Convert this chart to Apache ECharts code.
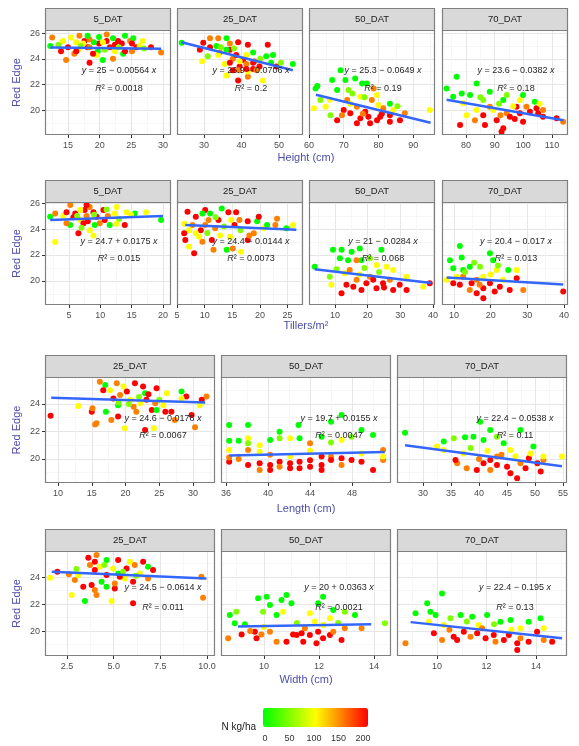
<!DOCTYPE html>
<html><head><meta charset="utf-8">
<script src="https://cdn.jsdelivr.net/npm/echarts@6/dist/echarts.min.js"></script>
<style>html,body{margin:0;padding:0;background:#fff}#c{width:579px;height:746px}</style>
</head><body><div id="c"></div><script>
// ---------------- DATA (x, Red Edge, N kg/ha) ----------------
const facets4 = ['5_DAT','25_DAT','50_DAT','70_DAT'];
const facets3 = ['25_DAT','50_DAT','70_DAT'];
const xTitles = ['Height (cm)','Tillers/m\u00b2','Length (cm)','Width (cm)'];
const yTitle = 'Red Edge';
const legendTitle = 'N kg/ha';
const nTicks = [0,50,100,150,200];
const yTicksTop = [20,22,24,26];
const yTicksBottom = [20,22,24];
const heightTicks = [[15,20,25,30],[30,40,50],[60,70,80,90],[80,90,100,110]];
const tillerTicks = [[5,10,15,20],[5,10,15,20,25],[10,20,30,40],[10,20,30,40]];
const lengthTicks = [[10,15,20,25,30],[36,40,44,48],[30,35,40,45,50,55]];
const widthTicks = [[2.5,5,7.5,10],[10,12,14],[10,12,14]];

const height5 = [[12.5,25.66,150],[12.2,25.0,0],[13.9,24.6,200],[14.7,23.9,150],[15.5,25.66,100],[16.8,25.8,150],[17.6,25.4,200],[18.4,23.7,200],[19.9,25.7,0],[21.1,25.9,150],[19.9,25.2,200],[19.7,24.6,0],[18.1,24.9,200],[19.5,24.3,100],[20.5,23.9,0],[21.6,24.9,200],[22.9,25.4,200],[22.1,24.0,150],[24.0,25.8,0],[23.5,25.2,200],[23.7,24.4,0],[24.8,25.4,150],[25.8,24.9,200],[26.3,25.0,100],[28.1,24.9,200],[29.7,24.5,150],[16.6,24.7,100],[16.0,24.4,150],[15.0,24.9,200],[14.2,25.4,100],[19.1,25.3,0],[17.4,25.2,100],[18.95,24.4,200],[22.4,24.6,100],[21.1,25.4,200],[25.1,24.6,150],[25.3,25.6,0],[26.8,25.4,100],[24.0,24.6,200],[18.4,25.5,150],[20.5,25.3,100],[22.1,25.6,0],[22.4,25.1,200],[18.4,24.9,150],[16.3,25.3,100],[16.3,24.6,200],[18.1,25.8,0],[25.1,25.2,200],[20.8,24.7,50],[23.0,24.9,50],[17.0,25.0,50],[27.0,24.8,50],[13.5,25.1,50]];
const height25 = [[24.05,25.26,0],[29.8,25.26,200],[31.6,25.6,150],[33.8,25.6,150],[36.0,25.6,0],[39.1,25.3,200],[28.9,24.7,200],[29.5,23.8,100],[31.6,24.9,200],[33.3,25.0,0],[34.2,24.5,150],[33.8,24.3,100],[36.9,24.7,200],[37.7,24.0,150],[39.5,23.4,200],[40.4,23.9,200],[41.3,24.3,100],[41.7,25.1,200],[43.1,24.5,0],[43.5,23.8,150],[43.1,23.2,200],[44.8,23.4,200],[46.6,24.2,0],[47.0,25.1,200],[48.4,24.3,0],[49.3,23.4,200],[45.7,22.3,100],[41.7,22.6,150],[39.1,22.3,200],[36.0,22.7,100],[37.7,23.1,200],[39.3,23.1,150],[41.7,23.0,100],[53.7,23.6,0],[35.5,23.6,100],[38.6,24.3,200],[36.9,25.2,150],[36.0,24.7,0],[43.1,23.7,200],[41.3,23.6,150],[39.5,23.8,100],[41.3,23.2,200],[44.0,23.1,150],[47.9,23.7,0],[36.9,23.7,200],[34.5,24.9,50],[38.0,24.8,50],[45.0,24.0,50],[31.0,24.2,50],[50.5,23.7,50]];
const height50 = [[62.4,21.87,0],[66.7,22.34,0],[69.1,23.1,0],[70.5,22.34,0],[73.3,22.47,0],[76.7,22.08,0],[83.3,20.5,0],[68.1,21.56,0],[71.4,21.56,50],[61.4,20.13,100],[64.8,20.26,100],[94.8,20.0,100],[66.2,19.6,50],[71.0,20.78,150],[74.8,21.04,100],[79.6,21.17,100],[78.6,21.69,150],[68.1,19.2,200],[71.9,19.74,200],[74.8,19.35,200],[77.6,18.96,200],[80.5,19.48,200],[83.3,19.09,200],[76.2,19.87,200],[73.8,20.26,150],[70.0,20.0,200],[86.2,19.2,200],[87.6,19.74,150],[84.3,20.0,100],[81.4,20.13,150],[79.6,19.2,200],[73.8,18.96,200],[61.9,21.69,0],[63.3,20.78,50],[78.1,20.78,150],[77.1,19.48,200],[71.9,20.5,100],[83.3,19.6,200],[75.3,22.08,0],[72.5,21.3,50],[76.0,21.0,50],[80.0,20.4,100],[66.0,20.8,100],[85.5,20.3,50],[75.5,19.7,150],[81.0,19.7,200],[69.5,19.6,150]];
const height70 = [[73.2,21.69,0],[76.7,22.6,0],[83.7,22.08,0],[75.5,21.04,0],[81.4,21.17,0],[88.3,21.43,0],[93.0,20.78,0],[104.0,20.65,0],[94.2,21.17,50],[79.0,20.52,100],[83.7,20.0,100],[98.8,20.78,100],[88.3,20.26,150],[94.2,19.74,150],[77.9,18.83,200],[86.6,18.83,200],[90.7,19.2,200],[93.0,18.57,200],[95.3,19.48,200],[98.8,19.74,200],[102.3,19.87,200],[105.2,19.74,200],[111.6,19.35,200],[113.9,19.09,150],[106.9,20.0,150],[99.9,19.09,200],[80.2,19.6,100],[83.1,19.2,150],[86.0,19.6,200],[89.5,20.0,100],[97.6,20.26,200],[101.1,20.26,150],[86.0,20.78,50],[104.6,20.13,200],[105.7,20.5,100],[99.9,21.17,0],[92.4,18.3,200],[106.9,19.48,200],[78.5,21.3,0],[85.0,21.0,50],[91.5,20.5,50],[96.5,20.3,100],[92.0,19.6,150],[97.0,19.3,200]];

const tillers5 = [[5.2,25.85,150],[6.0,25.2,200],[7.5,25.46,200],[8.3,25.7,150],[6.8,24.7,100],[7.3,24.44,200],[5.2,24.3,0],[6.5,23.67,200],[8.3,23.9,100],[9.4,24.95,200],[10.5,25.46,200],[9.9,24.44,150],[11.5,24.3,0],[10.7,24.7,200],[12.3,25.2,100],[14.2,25.3,100],[15.5,25.2,0],[17.3,25.3,100],[13.9,24.3,200],[12.6,24.4,100],[19.7,24.7,0],[2.8,23.0,100],[2.8,25.2,150],[2.0,24.95,0],[4.1,25.0,100],[4.6,25.3,200],[8.9,23.5,100],[7.8,25.0,150],[5.7,24.9,200],[12.6,25.7,100],[11.2,25.0,150],[7.8,25.85,200],[6.8,25.46,100],[9.1,24.3,0],[4.6,24.44,150],[8.9,25.3,200],[14.9,25.1,100],[6.3,25.0,50],[9.0,25.1,50],[11.0,25.5,50],[13.0,24.8,50],[8.0,24.6,200],[7.0,24.1,50]];
const tillers25 = [[6.9,25.33,200],[6.5,23.15,200],[8.4,24.95,200],[7.8,24.3,150],[7.2,23.9,100],[8.1,22.13,200],[7.2,22.64,100],[9.6,23.02,150],[9.0,23.4,100],[10.1,25.46,200],[10.7,24.7,150],[11.0,25.2,0],[11.3,23.15,200],[12.5,24.7,200],[13.1,25.58,0],[11.9,24.05,150],[12.8,23.5,100],[11.6,22.4,150],[14.6,23.4,100],[14.0,22.4,0],[15.1,22.5,150],[16.6,22.25,100],[14.3,25.3,200],[15.7,25.3,200],[14.8,24.7,100],[15.4,24.3,200],[16.3,24.7,150],[17.8,24.6,200],[19.5,24.6,0],[19.8,24.95,200],[18.9,23.67,150],[20.7,24.05,100],[17.8,23.15,200],[18.1,23.5,150],[21.3,24.3,0],[23.1,24.8,150],[22.8,24.3,150],[24.8,24.05,0],[26.0,24.3,100],[9.3,23.9,200],[10.1,24.3,150],[6.3,24.4,100],[6.3,23.67,200],[8.4,23.67,100],[9.6,25.2,0],[12.0,24.9,50],[13.5,24.2,50],[16.5,23.9,50],[10.5,23.7,50]];
const tillers50 = [[3.8,21.1,0],[9.4,22.4,0],[11.5,21.75,0],[15.1,22.25,0],[17.6,22.5,0],[18.1,21.6,0],[24.2,22.4,0],[14.0,21.6,0],[20.7,21.75,50],[22.7,21.23,100],[31.9,20.33,100],[8.9,19.7,100],[27.8,20.85,100],[16.6,21.6,150],[12.0,19.05,200],[15.6,19.56,200],[19.6,19.82,200],[22.7,19.44,200],[24.7,19.82,200],[27.8,19.3,200],[31.9,19.3,200],[20.7,20.33,150],[16.6,20.1,150],[18.1,19.3,200],[26.8,20.1,150],[29.8,19.7,200],[37.0,19.56,100],[39.0,19.82,200],[8.4,20.33,50],[13.0,20.6,100],[13.5,19.7,200],[21.7,20.1,200],[14.5,20.85,150],[12.0,22.4,0],[25.8,21.1,100],[19.0,21.0,50],[23.5,20.7,50],[17.5,20.5,100],[25.0,19.5,200],[10.5,20.9,50]];
const tillers70 = [[11.6,22.7,0],[12.1,21.8,0],[8.9,21.6,0],[9.8,20.98,0],[19.8,22.13,0],[20.7,21.6,0],[24.8,20.85,0],[14.3,21.1,0],[17.1,21.1,50],[21.6,20.85,100],[27.1,20.85,100],[8.0,20.1,100],[18.0,20.33,100],[12.5,20.33,150],[11.6,19.7,200],[14.8,19.82,200],[18.0,19.44,200],[19.8,19.82,200],[22.5,19.56,200],[18.0,18.67,200],[25.2,19.3,200],[27.1,20.2,200],[28.9,19.3,150],[39.8,19.18,200],[9.8,19.82,200],[16.2,20.1,150],[23.4,20.1,100],[21.1,19.18,200],[14.3,19.3,150],[16.2,19.05,200],[10.7,20.33,100],[12.5,20.85,0],[15.5,21.4,50],[22.0,21.2,50],[13.0,20.7,50],[20.0,20.5,100],[17.0,19.7,150]];

const length25 = [[8.9,23.15,200],[13.0,23.85,100],[15.0,23.44,200],[15.1,23.68,150],[15.7,22.6,150],[15.5,22.5,150],[17.1,23.44,0],[16.2,25.62,150],[17.0,25.38,0],[16.7,25.0,200],[18.2,24.4,200],[17.9,22.84,150],[19.9,22.23,100],[18.9,23.08,200],[19.2,24.65,150],[19.7,25.26,100],[20.2,24.9,200],[21.4,25.5,200],[20.7,24.3,100],[21.2,23.8,150],[22.2,24.05,100],[22.6,25.26,200],[22.9,24.78,0],[23.1,24.3,200],[21.6,23.44,150],[22.9,22.1,200],[24.2,22.23,100],[24.6,25.14,200],[24.4,24.05,150],[23.9,23.56,200],[26.1,24.78,100],[24.6,23.56,0],[25.9,23.44,200],[26.8,23.44,200],[27.3,22.84,150],[25.6,23.9,100],[28.3,24.9,0],[29.0,24.55,200],[28.3,24.4,100],[30.3,22.3,150],[29.8,23.2,200],[31.3,24.3,200],[32.0,24.55,150],[31.0,23.9,100],[17.7,25.0,100],[18.7,25.5,150],[18.9,23.9,0],[23.4,24.7,200],[20.5,24.0,50],[22.0,24.5,50],[25.0,24.3,50],[19.0,24.1,50]];
const length50 = [[36.3,22.47,0],[36.3,21.33,0],[36.3,20.65,100],[36.3,19.8,200],[37.2,21.33,0],[38.1,22.47,0],[38.1,21.5,100],[38.1,21.14,50],[38.1,19.56,200],[38.1,20.65,150],[39.2,21.0,100],[39.2,19.69,200],[39.2,19.2,150],[40.2,21.38,0],[40.2,19.56,200],[40.2,19.2,200],[39.2,20.53,100],[41.1,21.98,0],[41.1,21.5,50],[41.1,19.8,200],[41.1,19.44,150],[42.1,19.69,200],[42.1,19.32,200],[42.1,21.5,100],[42.9,22.47,0],[43.0,21.5,0],[43.0,19.8,200],[43.0,19.32,200],[44.0,21.14,150],[44.0,19.44,200],[45.1,21.62,0],[45.1,20.17,200],[45.1,19.56,200],[45.1,19.2,200],[46.0,22.71,0],[46.0,20.17,150],[46.0,19.93,200],[47.0,23.2,0],[47.0,21.38,100],[47.0,19.56,150],[47.0,20.05,200],[47.95,21.62,50],[47.95,19.93,200],[48.9,22.1,0],[48.9,19.8,200],[50.0,21.75,0],[50.0,19.2,200],[50.96,20.65,150],[50.96,19.93,150],[50.96,20.17,100],[37.2,20.0,150],[40.2,20.3,150],[42.1,20.2,100],[44.0,20.6,100],[46.0,21.2,50],[48.9,20.4,100],[36.3,20.1,150],[44.0,19.9,200]];
const length70 = [[26.8,21.91,0],[33.7,21.26,0],[37.5,21.58,0],[40.2,22.71,0],[42.0,22.1,0],[40.8,21.38,0],[44.4,21.14,0],[47.4,22.1,0],[49.7,20.9,0],[39.0,21.62,0],[43.2,21.62,50],[35.5,21.5,50],[32.5,20.9,100],[33.7,20.65,100],[37.2,20.4,100],[54.8,20.17,100],[45.6,20.65,100],[37.8,19.32,150],[36.1,19.69,150],[35.8,19.93,200],[39.6,19.2,200],[42.0,19.93,200],[43.2,19.56,200],[45.0,19.44,200],[46.8,18.6,200],[48.3,19.32,200],[48.9,20.05,200],[50.4,19.69,200],[51.5,19.93,150],[51.0,19.08,200],[47.4,19.69,150],[49.2,20.4,100],[40.8,19.69,200],[43.2,20.17,150],[45.6,18.96,200],[42.0,19.2,150],[51.5,20.17,100],[38.5,20.8,50],[41.5,20.6,100],[44.0,20.3,150],[46.5,20.2,100],[40.0,20.0,150]];

const width25 = [[1.59,23.95,100],[1.98,24.4,200],[2.92,23.78,150],[2.75,22.67,100],[3.46,22.22,0],[3.64,25.43,200],[3.73,24.89,150],[3.37,23.28,200],[3.82,23.41,200],[4.08,25.63,150],[3.99,25.13,200],[4.62,25.26,0],[4.26,24.76,100],[3.99,24.52,200],[4.08,22.67,150],[3.99,23.04,150],[4.35,23.65,0],[5.24,25.26,200],[4.97,24.64,100],[5.69,24.64,200],[5.06,23.16,200],[5.06,23.53,150],[4.89,22.22,100],[5.6,23.9,100],[5.24,24.27,0],[5.87,25.13,100],[6.13,24.89,150],[6.04,23.65,200],[6.04,22.05,200],[6.58,25.13,200],[6.84,24.76,0],[7.11,24.52,200],[6.84,23.9,150],[6.4,24.27,100],[9.7,24.02,150],[9.79,22.47,150],[4.62,24.15,200],[3.1,24.15,100],[5.33,24.02,200],[4.62,23.28,0],[3.0,24.6,50],[4.5,24.9,50],[5.5,24.4,50],[6.2,24.1,50],[2.6,24.2,150]];
const width50 = [[8.7,19.46,150],[8.76,21.19,0],[8.94,20.57,0],[9.0,21.43,50],[9.19,19.75,200],[9.31,20.5,0],[9.73,19.46,200],[9.67,19.95,200],[9.91,19.75,150],[9.79,22.42,0],[10.1,22.54,0],[10.22,21.93,0],[9.97,21.43,50],[10.46,21.19,0],[10.64,22.3,0],[10.82,22.67,0],[10.7,21.43,100],[10.22,19.95,150],[10.82,19.21,200],[11.06,19.75,200],[10.46,19.21,150],[11.0,22.05,0],[12.15,22.54,0],[11.97,22.05,0],[12.52,21.56,0],[13.31,21.19,0],[12.94,21.43,50],[11.67,21.31,100],[12.4,20.94,100],[11.85,20.7,100],[14.4,20.57,50],[12.94,20.2,150],[13.55,20.2,150],[11.19,19.7,200],[11.67,19.7,200],[11.97,19.95,200],[12.15,19.46,200],[11.91,19.09,200],[12.4,19.7,200],[12.82,19.33,200],[11.43,19.21,200],[11.49,20.2,150],[12.52,19.95,150],[12.15,20.44,100],[11.37,19.83,200],[10.0,20.3,100],[11.2,20.6,50],[12.7,20.6,50],[9.5,20.0,150]];
const width70 = [[8.72,19.09,150],[9.13,21.31,0],[9.6,22.05,0],[9.73,21.43,0],[9.94,21.19,0],[10.2,22.79,0],[10.95,21.19,0],[11.42,21.06,0],[12.02,21.19,0],[12.56,20.69,0],[12.97,20.81,0],[13.7,20.69,0],[14.18,20.94,0],[10.54,20.94,50],[9.67,20.69,100],[10.27,20.44,100],[11.68,20.44,100],[13.37,20.2,100],[14.31,20.2,100],[10.2,19.33,150],[9.87,19.83,200],[10.67,19.58,200],[11.08,19.95,200],[11.35,19.58,150],[11.62,19.83,200],[11.96,19.46,200],[12.29,19.7,200],[12.7,19.33,200],[12.9,19.7,200],[13.24,18.59,200],[13.24,19.09,200],[13.37,19.46,150],[13.7,19.21,200],[14.04,19.95,200],[14.31,19.33,150],[14.65,19.21,200],[12.36,19.21,150],[11.82,20.2,150],[10.81,19.33,200],[11.2,20.7,50],[12.3,20.5,50],[13.0,20.1,100],[10.5,20.1,150]];

// fitted-line end points
const fitHeight = [[[12.2,24.88],[29.7,24.78]],[[24,25.3],[53.7,23.1]],[[62,21.2],[95,19.0]],[[73.2,20.8],[114,19.2]]];
const fitTillers = [[[2,24.7],[20,25.0]],[[6.5,24.3],[26.6,23.95]],[[3.8,20.9],[39.5,19.85]],[[8,20.26],[39.8,19.72]]];
const fitLength = [[[9,24.45],[31.8,24.1]],[[36.3,20.25],[51.1,20.5]],[[26.8,21.0],[54.8,19.47]]];
const fitWidth = [[[1.68,24.4],[9.97,23.9]],[[9.06,20.33],[13.9,20.5]],[[8.93,20.66],[15.05,19.47]]];

const eqHeight = ['25 \u2212 0.00564','26.9 \u2212 0.0706','25.3 \u2212 0.0649','23.6 \u2212 0.0382'];
const r2Height = ['0.0018','0.2','0.19','0.18'];
const eqTillers = ['24.7 + 0.0175','24.4 \u2212 0.0144','21 \u2212 0.0284','20.4 \u2212 0.017'];
const r2Tillers = ['0.015','0.0073','0.068','0.013'];
const eqLength = ['24.6 \u2212 0.0178','19.7 + 0.0155','22.4 \u2212 0.0538'];
const r2Length = ['0.0067','0.0047','0.11'];
const eqWidth = ['24.5 \u2212 0.0614','20 + 0.0363','22.4 \u2212 0.195'];
const r2Width = ['0.011','0.0021','0.13'];

// ---------------- LAYOUT ----------------
const FONT = "'Liberation Sans', Arial, Helvetica, sans-serif";
const TITLE_COLOR = '#4d4dab';
const rowLayout = [
  {top:30, height:105, ymin:18.05, ymax:26.25, eqF:[0.39,0.56], titleY:158, lefts:[45,177,309,442], width:126,
   xlim:[[11.37,31.26],[22.8,56.4],[60,96.3],[71.6,115.6]], dec:[0,0,0,0]},
  {top:202, height:103, ymin:18.15, ymax:26.08, eqF:[0.38,0.55], titleY:326, lefts:[45,177,309,442], width:126,
   xlim:[[1.17,21.28],[5,27.8],[2.05,40.6],[6.73,41.1]], dec:[0,0,0,0]},
  {top:377, height:106, ymin:18.25, ymax:25.96, eqF:[0.39,0.55], titleY:509, lefts:[45,221,397], width:170,
   xlim:[[8.07,33.26],[35.52,51.71],[25.36,55.7]], dec:[0,0,0]},
  {top:551, height:105, ymin:18.15, ymax:25.93, eqF:[0.35,0.54], titleY:680, lefts:[45,221,397], width:170,
   xlim:[[1.32,10.43],[8.44,14.62],[8.38,15.25]], dec:[1,0,0]},
];
const rowsData = [
  {sets:[height5,height25,height50,height70], fits:fitHeight, eqs:eqHeight, r2:r2Height, ticks:heightTicks, facets:facets4, yTicks:yTicksTop},
  {sets:[tillers5,tillers25,tillers50,tillers70], fits:fitTillers, eqs:eqTillers, r2:r2Tillers, ticks:tillerTicks, facets:facets4, yTicks:yTicksTop},
  {sets:[length25,length50,length70], fits:fitLength, eqs:eqLength, r2:r2Length, ticks:lengthTicks, facets:facets3, yTicks:yTicksBottom},
  {sets:[width25,width50,width70], fits:fitWidth, eqs:eqWidth, r2:r2Width, ticks:widthTicks, facets:facets3, yTicks:yTicksBottom},
];

const grids = [], xAxes = [], yAxes = [], series = [], graphics = [], scatterIdx = [];
const gridLine = {show:true, lineStyle:{color:'#e6e6e6', width:1}};
const minorLine = {show:true, lineStyle:{color:'#f3f3f3', width:0.7}};

rowsData.forEach((rd, r) => {
  const L = rowLayout[r];
  rd.sets.forEach((pts, c) => {
    const i = grids.length;
    const left = L.lefts[c], w = L.width, top = L.top, h = L.height;
    const ticks = rd.ticks[c];
    const iv = ticks[1] - ticks[0];
    const dec = L.dec[c];
    grids.push({left:left, top:top, width:w, height:h, containLabel:false});
    xAxes.push({
      gridIndex:i, type:'value', min:L.xlim[c][0], max:L.xlim[c][1], minInterval:iv, maxInterval:iv,
      axisLine:{show:false},
      axisTick:{show:true, length:3, customValues:ticks, lineStyle:{color:'#333'}},
      axisLabel:{show:true, customValues:ticks, margin:6, fontSize:9, color:'#4d4d4d', fontFamily:FONT,
        formatter:v => dec ? Number(v).toFixed(dec) : String(Math.round(v))},
      splitLine:gridLine, minorTick:{show:false, splitNumber:2}, minorSplitLine:minorLine
    });
    yAxes.push({
      gridIndex:i, type:'value', min:L.ymin, max:L.ymax, minInterval:2, maxInterval:2,
      axisLine:{show:false},
      axisTick:{show:c===0, length:3, customValues:rd.yTicks, lineStyle:{color:'#333'}},
      axisLabel:{show:c===0, customValues:rd.yTicks, margin:5, fontSize:9, color:'#4d4d4d', fontFamily:FONT},
      splitLine:gridLine, minorTick:{show:false, splitNumber:2}, minorSplitLine:minorLine,
      name: c===0 ? yTitle : '', nameLocation:'middle', nameGap:23, nameRotate:90,
      nameTextStyle:{color:TITLE_COLOR, fontSize:11, fontFamily:FONT}
    });
    scatterIdx.push(series.length);
    series.push({type:'scatter', xAxisIndex:i, yAxisIndex:i, data:pts, symbol:'circle', symbolSize:6,
      itemStyle:{opacity:1}, silent:true, z:2});
    series.push({type:'line', xAxisIndex:i, yAxisIndex:i, data:rd.fits[c], symbol:'none', showSymbol:false,
      lineStyle:{color:'#3366ff', width:2.5}, silent:true, z:3});
    // panel border and strip
    graphics.push({type:'rect', silent:true, z:50, shape:{x:left+0.5, y:top+0.5, width:w-1, height:h-1},
      style:{fill:'none', stroke:'#808080', lineWidth:1.2}});
    graphics.push({type:'rect', silent:true, z:50, shape:{x:left+0.5, y:top-22+0.5, width:w-1, height:22},
      style:{fill:'#d9d9d9', stroke:'#808080', lineWidth:1.2}});
    graphics.push({type:'text', silent:true, z:51, x:left+w/2, y:top-11,
      style:{text:rd.facets[c], fontSize:9.5, fontFamily:FONT, fill:'#1a1a1a', align:'center', verticalAlign:'middle'}});
    // equation labels
    const cx = left + w - 52;
    const rich = {i:{fontStyle:'italic', fontSize:9, fontFamily:FONT, fill:'#262626'}};
    graphics.push({type:'text', silent:true, z:60, x:cx, y:top + h*L.eqF[0],
      style:{text:'{i|y} = ' + rd.eqs[c] + ' {i|x}', rich:rich, fontSize:9, fontFamily:FONT, fill:'#262626', align:'center', verticalAlign:'middle'}});
    graphics.push({type:'text', silent:true, z:60, x:cx, y:top + h*L.eqF[1],
      style:{text:'{i|R}\u00b2 = ' + rd.r2[c], rich:rich, fontSize:9, fontFamily:FONT, fill:'#262626', align:'center', verticalAlign:'middle'}});
  });
  graphics.push({type:'text', silent:true, z:60, x:306, y:L.titleY,
    style:{text:xTitles[r], fontSize:11, fontFamily:FONT, fill:TITLE_COLOR, align:'center', verticalAlign:'middle'}});
});

// legend axis for colour-bar labels
const li = grids.length;
grids.push({left:265, top:727, width:98, height:1, containLabel:false});
xAxes.push({gridIndex:li, type:'value', min:0, max:200, minInterval:50, maxInterval:50,
  axisLine:{show:false}, axisTick:{show:false}, splitLine:{show:false},
  axisLabel:{customValues:nTicks, fontSize:9, color:'#333', margin:6, fontFamily:FONT}});
yAxes.push({gridIndex:li, type:'value', show:false});
graphics.push({type:'text', silent:true, z:60, x:256, y:727,
  style:{text:legendTitle, fontSize:10, fontFamily:FONT, fill:'#1a1a1a', align:'right', verticalAlign:'middle'}});

const chart = echarts.init(document.getElementById('c'), null, {renderer:'canvas'});
chart.setOption({
  animation:false,
  backgroundColor:'#ffffff',
  textStyle:{fontFamily:FONT},
  grid:grids, xAxis:xAxes, yAxis:yAxes, series:series,
  visualMap:{type:'continuous', min:0, max:200, dimension:2, seriesIndex:scatterIdx,
    orient:'horizontal', left:263, top:708, itemWidth:19, itemHeight:105, padding:0,
    calculable:false, hoverLink:false, text:null,
    inRange:{color:['#00ff00','#ffff00','#ff0000']}},
  graphic:graphics
});
</script></body></html>
